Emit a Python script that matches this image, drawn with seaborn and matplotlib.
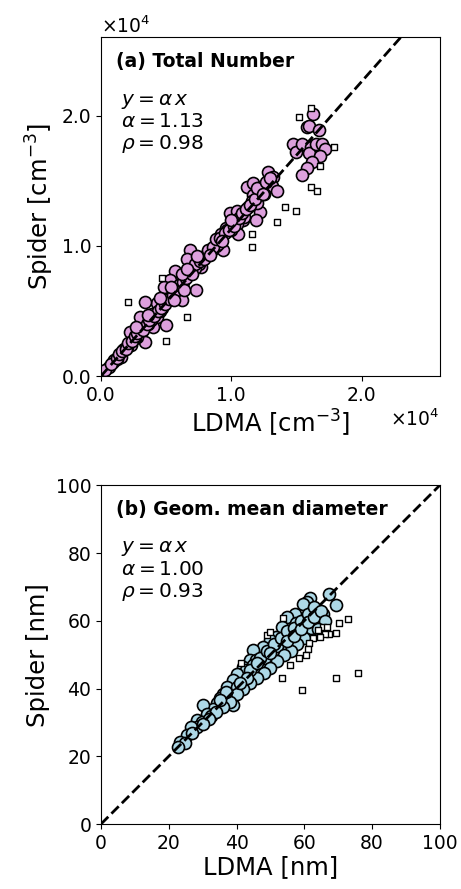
import numpy as np
import pandas as pd
import seaborn as sns
import matplotlib
matplotlib.use("Agg")
import matplotlib.pyplot as plt
from matplotlib import ticker

# (a) total number, values in 1e4 cm^-3
num_ldma = [1.63, 1.58, 1.60, 1.67, 1.47, 1.50, 1.54, 1.61, 1.60, 1.65, 1.70, 1.72, 1.68, 1.62,
            1.58, 1.54, 1.28, 1.32, 1.12, 1.17, 1.23, 1.31, 1.35, 1.17, 1.16, 1.22, 1.19, 0.99,
            1.04, 1.09, 1.04, 0.96, 1.05, 0.92, 0.89, 0.94, 0.85, 0.81, 0.68, 0.66, 0.77, 0.68,
            0.73, 0.57, 0.53, 0.48, 0.58, 0.62, 0.50, 0.43, 0.34, 0.39, 0.30, 0.43, 0.50, 0.22,
            0.31, 0.40, 0.34, 0.23, 0.17, 0.15, 0.09, 0.06, 0.03, 1.10, 1.00, 0.88, 0.75, 0.70,
            0.62, 0.55, 0.45, 0.38, 0.28, 0.20, 0.12, 0.80, 0.90, 1.13, 0.60, 0.47, 0.36, 0.26,
            0.10, 0.72, 0.83, 0.97, 1.20, 1.25, 0.18, 0.08,
            0.12, 0.14, 0.16, 0.19, 0.21, 0.24, 0.26, 0.28, 0.32, 0.35, 0.37, 0.41, 0.44, 0.46,
            0.49, 0.52, 0.55, 0.58, 0.60, 0.63, 0.65, 0.70, 0.72, 0.76, 0.79, 0.82, 0.86, 0.88,
            0.91, 0.95, 0.98, 1.02, 1.06, 1.08, 1.11, 1.14, 1.18, 1.20, 1.24, 1.27, 1.30, 0.54,
            0.62, 0.66, 0.74, 0.84, 0.93, 1.00, 0.36, 0.27, 0.45, 0.56, 0.64]
num_spider = [2.01, 1.91, 1.92, 1.89, 1.78, 1.72, 1.78, 1.76, 1.71, 1.78, 1.78, 1.74, 1.69, 1.64,
              1.60, 1.54, 1.57, 1.53, 1.45, 1.48, 1.45, 1.46, 1.42, 1.39, 1.34, 1.26, 1.20, 1.25,
              1.27, 1.20, 1.17, 1.14, 1.09, 1.09, 1.04, 0.97, 0.97, 0.94, 0.97, 0.90, 0.84, 0.79,
              0.66, 0.81, 0.74, 0.68, 0.63, 0.58, 0.58, 0.56, 0.57, 0.48, 0.45, 0.45, 0.39, 0.34,
              0.33, 0.38, 0.26, 0.24, 0.20, 0.15, 0.11, 0.07, 0.05, 1.22, 1.12, 1.00, 0.86, 0.80,
              0.70, 0.62, 0.50, 0.43, 0.30, 0.22, 0.13, 0.92, 1.01, 1.30, 0.68, 0.52, 0.40, 0.29,
              0.12, 0.83, 0.93, 1.12, 1.33, 1.40, 0.21, 0.09,
              0.14, 0.17, 0.19, 0.21, 0.25, 0.27, 0.31, 0.33, 0.35, 0.40, 0.43, 0.46, 0.50, 0.52,
              0.55, 0.59, 0.62, 0.66, 0.70, 0.72, 0.75, 0.78, 0.86, 0.88, 0.90, 0.97, 0.99, 1.05,
              1.06, 1.10, 1.12, 1.15, 1.21, 1.25, 1.28, 1.31, 1.36, 1.44, 1.40, 1.49, 1.52, 0.68,
              0.78, 0.82, 0.92, 0.93, 1.04, 1.20, 0.47, 0.38, 0.60, 0.58, 0.66]
num_ldma_out = [1.61, 1.52, 1.79, 1.68, 1.61, 1.66, 1.41, 1.50, 1.35, 1.16, 1.16, 0.47, 0.21,
                0.66, 0.50]
num_spider_out = [2.06, 1.99, 1.76, 1.61, 1.45, 1.42, 1.30, 1.27, 1.18, 1.09, 0.99, 0.75, 0.57,
                  0.45, 0.27]

# (b) geometric mean diameter, nm
dia_ldma = [67.4, 69.5, 61.7, 60.7, 59.7, 65.6, 63.6, 57.2, 54.8, 60.7, 57.7, 53.3, 51.8, 55.8,
            53.3, 49.9, 47.9, 44.9, 43.9, 45.9, 42.0, 47.9, 50.3, 42.9, 40.0, 39.0, 37.1, 40.0,
            36.1, 35.1, 38.0, 39.0, 34.1, 33.1, 30.2, 31.2, 28.2, 29.7, 28.2, 26.7, 25.3, 23.3,
            24.8, 22.8, 62.5, 58.5, 56.0, 52.0, 48.5, 46.0, 44.0, 41.5, 36.5, 32.5, 27.0,
            45.0, 47.0, 49.0, 51.0, 53.0, 55.0, 57.0, 59.0, 61.0, 63.0, 62.0, 60.0, 58.0, 56.0,
            54.0, 52.0, 50.0, 48.0, 46.0, 44.0, 42.0, 40.0, 38.0, 36.0, 34.0, 32.0, 30.0, 44.0,
            46.0, 50.0, 55.0, 57.0, 59.0, 61.0, 63.0, 65.0, 66.0, 64.0, 43.0, 41.0, 37.0, 35.0]
dia_spider = [67.8, 64.6, 66.6, 65.6, 65.1, 62.1, 63.1, 62.1, 61.2, 60.2, 59.2, 58.2, 55.3, 54.3,
              52.8, 54.3, 52.3, 51.3, 48.4, 48.4, 46.4, 47.4, 49.4, 45.4, 44.4, 42.5, 40.5, 40.5,
              38.5, 37.1, 37.6, 35.1, 35.6, 34.1, 35.1, 32.6, 30.7, 30.2, 28.7, 28.7, 26.3, 24.3,
              23.8, 22.8, 60.0, 57.5, 56.5, 52.5, 49.0, 45.5, 43.5, 41.0, 36.0, 32.0, 27.0,
              47.0, 49.0, 51.0, 53.0, 55.0, 57.0, 58.0, 60.0, 62.0, 64.0, 58.0, 55.0, 53.0, 51.0,
              50.0, 48.0, 46.0, 44.5, 43.0, 41.5, 40.0, 38.5, 36.0, 34.5, 33.0, 31.0, 29.5, 45.5,
              47.5, 50.5, 54.0, 55.5, 57.5, 59.5, 61.0, 63.0, 60.0, 57.5, 43.0, 41.5, 39.0, 36.5]
dia_ldma_out = [75.9, 69.3, 59.4, 53.5, 73.0, 70.3, 69.3, 67.4, 66.1, 65.6, 64.1, 62.6, 61.5,
                61.2, 60.5, 58.5, 55.8, 53.6, 48.9, 41.2, 49.9, 64.6, 66.6]
dia_spider_out = [44.6, 43.2, 39.5, 43.0, 60.4, 59.2, 56.5, 56.2, 56.2, 58.2, 57.2, 54.8, 53.3,
                  51.6, 49.9, 48.9, 46.9, 60.7, 55.8, 47.6, 56.7, 55.3, 58.2]

panels = [
    dict(x=np.array(num_ldma) * 1e4, y=np.array(num_spider) * 1e4,
         xo=np.array(num_ldma_out) * 1e4, yo=np.array(num_spider_out) * 1e4,
         color="plum", lim=2.6e4, slope=1.13, rho=0.98,
         title="(a) Total Number", xlabel="LDMA [cm$^{-3}$]", ylabel="Spider [cm$^{-3}$]"),
    dict(x=np.array(dia_ldma), y=np.array(dia_spider),
         xo=np.array(dia_ldma_out), yo=np.array(dia_spider_out),
         color="lightblue", lim=100, slope=1.00, rho=0.93,
         title="(b) Geom. mean diameter", xlabel="LDMA [nm]", ylabel="Spider [nm]"),
]


class OneDecimal(ticker.ScalarFormatter):
    def _set_format(self):
        self.format = "%1.1f"


fig = plt.figure(figsize=(4.61, 8.89), dpi=100)
boxes = [[0.219, 0.577, 0.735, 0.381], [0.219, 0.0731, 0.735, 0.381]]

for i, p in enumerate(panels):
    ax = fig.add_axes(boxes[i])
    sns.scatterplot(x=p["x"], y=p["y"], ax=ax, color=p["color"], edgecolor="black",
                    linewidth=1.2, s=75, zorder=2)
    sns.scatterplot(x=p["xo"], y=p["yo"], ax=ax, marker="s", color="white",
                    edgecolor="black", linewidth=1.0, s=25, zorder=3)
    xx = np.array([0, p["lim"]])
    ax.plot(xx, p["slope"] * xx, "--", color="black", lw=2, zorder=4)
    ax.set_xlim(0, p["lim"])
    ax.set_ylim(0, p["lim"])
    ax.set_aspect("equal")
    ax.set_xlabel(p["xlabel"], fontsize=17.5, labelpad=2)
    ax.set_ylabel(p["ylabel"], fontsize=17.5)
    ax.tick_params(labelsize=13.5)
    ax.text(0.044, 0.93, p["title"], transform=ax.transAxes, fontsize=13.5,
            fontweight="bold", va="center")
    ax.text(0.06, 0.84, "$y = \\alpha\\, x$\n$\\alpha = %.2f$\n$\\rho = %.2f$"
            % (p["slope"], p["rho"]), transform=ax.transAxes, fontsize=14.5,
            va="top", linespacing=1.12)
    if i == 0:
        ax.set_xticks([0, 1e4, 2e4])
        ax.set_yticks([0, 1e4, 2e4])
        for axis in (ax.xaxis, ax.yaxis):
            f = OneDecimal(useMathText=True)
            f.set_powerlimits((0, 0))
            axis.set_major_formatter(f)
            axis.get_offset_text().set_fontsize(13.5)
    else:
        ax.set_xticks(range(0, 101, 20))
        ax.set_yticks(range(0, 101, 20))

fig.savefig("out.png", dpi=100)
